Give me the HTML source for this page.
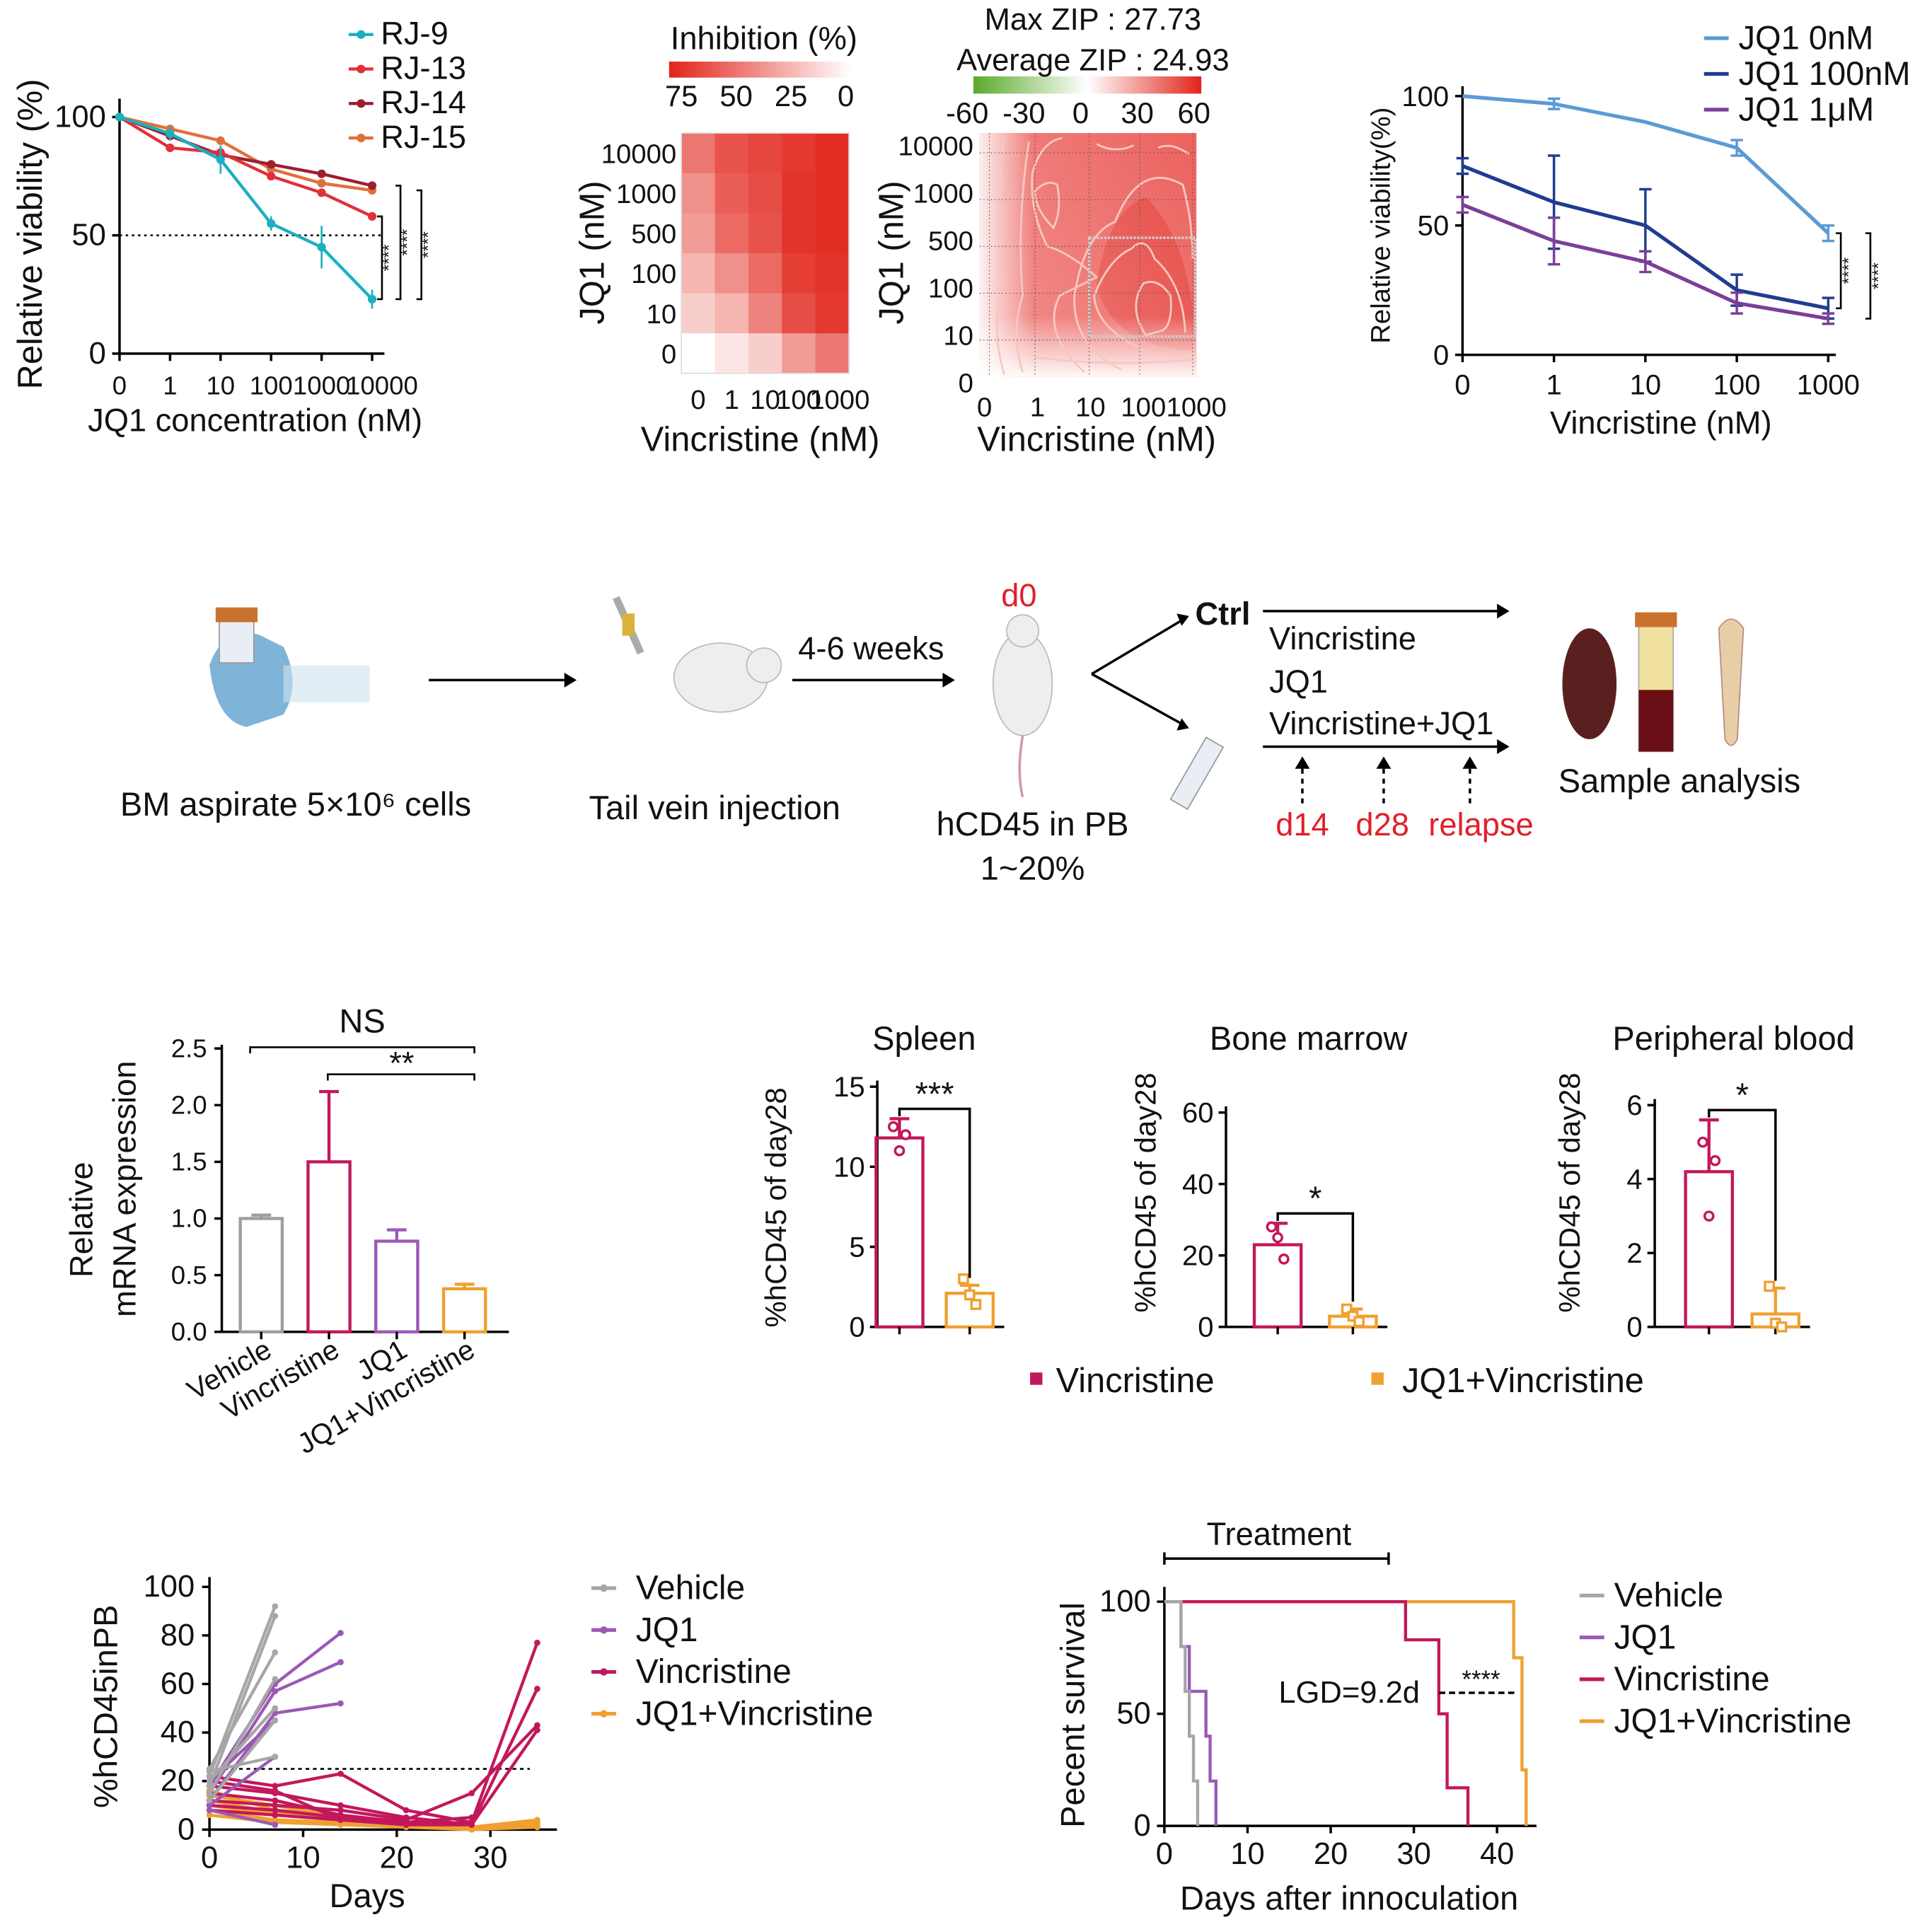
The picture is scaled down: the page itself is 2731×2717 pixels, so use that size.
<!DOCTYPE html>
<html><head><meta charset="utf-8">
<style>
html,body{margin:0;padding:0;background:#fff}
svg{display:block}
text{font-family:"Liberation Sans",Arial,sans-serif;fill:#111}
</style></head>
<body>
<svg id="fig" width="2731" height="2717" viewBox="0 0 1568 1560" xmlns="http://www.w3.org/2000/svg">
<rect width="1568" height="1560" fill="#fff"/>
<defs>
<linearGradient id="inhGrad" x1="0" x2="1"><stop offset="0" stop-color="#e2231a"/><stop offset="1" stop-color="#fff"/></linearGradient>
<linearGradient id="zipGrad" x1="0" x2="1"><stop offset="0" stop-color="#5aaa2a"/><stop offset="0.5" stop-color="#fff"/><stop offset="1" stop-color="#e2231a"/></linearGradient>
<linearGradient id="zipLeft" x1="0" x2="1"><stop offset="0" stop-color="#fff" stop-opacity="0.9"/><stop offset="0.25" stop-color="#fff" stop-opacity="0.15"/><stop offset="1" stop-color="#fff" stop-opacity="0"/></linearGradient>
<linearGradient id="zipBottom" x1="0" x2="0" y1="0" y2="1"><stop offset="0" stop-color="#fff" stop-opacity="0"/><stop offset="0.75" stop-color="#fff" stop-opacity="0.1"/><stop offset="1" stop-color="#fff" stop-opacity="0.95"/></linearGradient>
</defs>
<g id="g"></g>

<g>
<text x="34" y="190" transform="rotate(-90 34 190)" text-anchor="middle" font-size="28">Relative viability  (%)</text>
<text x="207" y="350" text-anchor="middle" font-size="26">JQ1 concentration (nM)</text>
</g>
<text x="620" y="40" text-anchor="middle" font-size="26">Inhibition (%)</text>
<text x="490" y="205" transform="rotate(-90 490 205)" text-anchor="middle" font-size="28">JQ1 (nM)</text>
<text x="617" y="366" text-anchor="middle" font-size="28">Vincristine (nM)</text>
<text x="887" y="24" text-anchor="middle" font-size="25">Max ZIP : 27.73</text>
<text x="887" y="57" text-anchor="middle" font-size="25">Average ZIP : 24.93</text>
<text x="733" y="205" transform="rotate(-90 733 205)" text-anchor="middle" font-size="28">JQ1 (nM)</text>
<text x="890" y="366" text-anchor="middle" font-size="28">Vincristine (nM)</text>
<text x="1128" y="183" transform="rotate(-90 1128 183)" text-anchor="middle" font-size="22">Relative viability(%)</text>
<text x="1348" y="352" text-anchor="middle" font-size="26">Vincristine (nM)</text>

<g>
<g>
<path d="M170 540 q10 -30 40 -25 l20 10 q15 30 0 55 l-30 10 q-25 -5 -30 -50z" fill="#7fb4d8"/>
<rect x="230" y="540" width="70" height="30" fill="#cfe2f0" opacity="0.6"/>
<rect x="178" y="500" width="28" height="38" fill="#e8eef3" stroke="#999"/>
<rect x="175" y="493" width="34" height="12" fill="#c9732e"/>
</g>
<line x1="348" y1="552" x2="458" y2="552" stroke="#000" stroke-width="2"/><path d="M458 546 l10 6 l-10 6z"/>
<text x="240" y="662" text-anchor="middle" font-size="27">BM aspirate 5×10⁶ cells</text>
<g>
<ellipse cx="585" cy="550" rx="38" ry="28" fill="#eee" stroke="#bbb"/>
<circle cx="620" cy="540" r="14" fill="#eee" stroke="#bbb"/>
<line x1="500" y1="485" x2="520" y2="530" stroke="#aaa" stroke-width="6"/>
<rect x="505" y="498" width="10" height="18" fill="#d9b23a"/>
</g>
<text x="580" y="665" text-anchor="middle" font-size="27">Tail vein injection</text>
<line x1="643" y1="552" x2="765" y2="552" stroke="#000" stroke-width="2"/><path d="M765 546 l10 6 l-10 6z"/>
<text x="707" y="535" text-anchor="middle" font-size="26">4-6 weeks</text>
<text x="827" y="492" text-anchor="middle" font-size="26" style="fill:#e0202a">d0</text>
<g>
<ellipse cx="830" cy="555" rx="24" ry="42" fill="#eee" stroke="#bbb"/>
<circle cx="830" cy="512" r="13" fill="#eee" stroke="#bbb"/>
<path d="M830 597 q-5 30 0 50" stroke="#c9a" fill="none" stroke-width="2"/>
</g>
<text x="838" y="678" text-anchor="middle" font-size="27">hCD45 in PB</text>
<text x="838" y="714" text-anchor="middle" font-size="27">1~20%</text>
<path d="M886 547 L960 503 M886 547 L960 588" stroke="#000" stroke-width="2" fill="none"/>
<path d="M955 498 l10 2 l-6 8z M955 593 l10 -2 l-6 -8z"/>
<text x="970" y="507" font-size="26" font-weight="bold">Ctrl</text>
<line x1="1025" y1="496" x2="1215" y2="496" stroke="#000" stroke-width="2"/><path d="M1215 490 l10 6 l-10 6z"/>
<text x="1030" y="527" font-size="26">Vincristine</text>
<text x="1030" y="562" font-size="26">JQ1</text>
<text x="1030" y="596" font-size="26">Vincristine+JQ1</text>
<line x1="1025" y1="606" x2="1215" y2="606" stroke="#000" stroke-width="2"/><path d="M1215 600 l10 6 l-10 6z"/>
<g stroke="#000" stroke-width="2" stroke-dasharray="4 4"><line x1="1057" y1="652" x2="1057" y2="620"/><line x1="1123" y1="652" x2="1123" y2="620"/><line x1="1193" y1="652" x2="1193" y2="620"/></g>
<path d="M1051 624 l6 -10 l6 10z M1117 624 l6 -10 l6 10z M1187 624 l6 -10 l6 10z"/>
<text x="1057" y="678" text-anchor="middle" font-size="26" style="fill:#e0202a">d14</text>
<text x="1122" y="678" text-anchor="middle" font-size="26" style="fill:#e0202a">d28</text>
<text x="1202" y="678" text-anchor="middle" font-size="26" style="fill:#e0202a">relapse</text>
<g><rect x="963" y="598" width="16" height="58" fill="#e8eef3" stroke="#999" transform="rotate(30 970 628)"/></g>
<g>
<ellipse cx="1290" cy="555" rx="22" ry="45" fill="#5a1f1f"/>
<rect x="1330" y="505" width="28" height="105" fill="#f0e0a0" stroke="#aaa"/>
<rect x="1330" y="560" width="28" height="50" fill="#6a0f15"/>
<rect x="1327" y="497" width="34" height="12" fill="#c9732e"/>
<path d="M1395 510 q10 -15 20 0 l-5 90 q-5 10 -10 0z" fill="#e6cfa6" stroke="#b88"/>
</g>
<text x="1363" y="643" text-anchor="middle" font-size="27">Sample analysis</text>
</g>

<text x="75" y="990" transform="rotate(-90 75 990)" text-anchor="middle" font-size="26">Relative</text>
<text x="110" y="965" transform="rotate(-90 110 965)" text-anchor="middle" font-size="26">mRNA expression</text>
<text x="750" y="852" text-anchor="middle" font-size="27">Spleen</text>
<text x="1062" y="852" text-anchor="middle" font-size="27">Bone marrow</text>
<text x="1407" y="852" text-anchor="middle" font-size="27">Peripheral blood</text>
<text x="638" y="980" transform="rotate(-90 638 980)" text-anchor="middle" font-size="24">%hCD45 of day28</text>
<text x="938" y="968" transform="rotate(-90 938 968)" text-anchor="middle" font-size="24">%hCD45 of day28</text>
<text x="1282" y="968" transform="rotate(-90 1282 968)" text-anchor="middle" font-size="24">%hCD45 of day28</text>
<rect x="836" y="1114" width="10" height="10" fill="#c2185b"/>
<text x="857" y="1130" font-size="28">Vincristine</text>
<rect x="1113" y="1114" width="10" height="10" fill="#f0a030"/>
<text x="1138" y="1130" font-size="28">JQ1+Vincristine</text>
<text x="95" y="1385" transform="rotate(-90 95 1385)" text-anchor="middle" font-size="27">%hCD45inPB</text>
<text x="298" y="1548" text-anchor="middle" font-size="27">Days</text>
<text x="880" y="1392" transform="rotate(-90 880 1392)" text-anchor="middle" font-size="27">Pecent survival</text>
<text x="1095" y="1550" text-anchor="middle" font-size="27">Days after innoculation</text>
<text x="1038" y="1254" text-anchor="middle" font-size="26">Treatment</text>
<path d="M945 1260 v10 M945 1265 H1127 M1127 1260 v10" stroke="#000" stroke-width="2" fill="none"/>
<text x="1095" y="1382" text-anchor="middle" font-size="25">LGD=9.2d</text>
<text x="1202" y="1370" text-anchor="middle" font-size="20">****</text>
<line x1="1168" y1="1374" x2="1230" y2="1374" stroke="#000" stroke-width="2" stroke-dasharray="5 3"/>
</svg>
<script>
const NS='http://www.w3.org/2000/svg';
const G=document.getElementById('g');
function mk(tag,attrs,name,parent){const el=document.createElementNS(NS,tag);for(const k in attrs)el.setAttribute(k,attrs[k]);


(parent||G).appendChild(el);return el;}
function txt(x,y,s,size,anchor,name,fill){const t=mk('text',{x:x,y:y,'font-size':size,'text-anchor':anchor||'middle'},name);if(fill)t.style.fill=fill;t.textContent=s;return t;}
function ln(x1,y1,x2,y2,name,stroke,w,dash){const a={x1:x1,y1:y1,x2:x2,y2:y2,stroke:stroke||'#000','stroke-width':w||2};if(dash)a['stroke-dasharray']=dash;return mk('line',a,name);}
function pl(pts,name,stroke,w,dash){const a={points:pts.map(p=>p.join(',')).join(' '),fill:'none',stroke:stroke,'stroke-width':w||2};if(dash)a['stroke-dasharray']=dash;return mk('polyline',a,name);}

/* Panel A */
const aCats=['0','1','10','100','1000','10000'];
const aSeriesNames=['RJ-9','RJ-13','RJ-14','RJ-15'];
const aColors=['#1ab0c0','#e0303a','#9c1f2e','#e0703a'];
const aRJ9=[100,93,82,55,45,23];
const aRJ13=[100,87,85,75,68,58];
const aRJ14=[100,92,84,80,76,71];
const aRJ15=[100,95,90,78,72,69];
const aErr9=[0,3,6,3,9,4];
const aYTicks=[0,50,100];
(function(){
 const x=i=>97+i*41, y=v=>287-v*1.92;
 ln(97,80,97,287,'a-y-axis');ln(97,287,312,287,'a-x-axis');
 aYTicks.forEach(v=>{ln(91,y(v),97,y(v),'a-y-tick');txt(86,y(v)+8,String(v),25,'end','a-y-tick-label');});
 aCats.forEach((c,i)=>{ln(x(i),287,x(i),293,'a-x-tick');txt(x(i)+(i==5?8:0),320,c,21,'middle','a-x-tick-label');});
 ln(97,y(50),312,y(50),'a-threshold-line','#000',1.5,'2 3');
 [aRJ15,aRJ14,aRJ13,aRJ9].forEach((s,k0)=>{const k=3-k0;const pts=s.map((v,i)=>[x(i),y(v)]);pl(pts,'a-line-'+aSeriesNames[k],aColors[k],2.5);
  pts.forEach((p,i)=>{if(k==0){ln(p[0],y(s[i]+aErr9[i]),p[0],y(s[i]-aErr9[i]),'a-error-bar',aColors[k],1.5);}mk('circle',{cx:p[0],cy:p[1],r:3.5,fill:aColors[k]},'a-point-'+aSeriesNames[k]);});});
 aSeriesNames.forEach((n,k)=>{const yy=36+k*28;ln(283,yy-8,303,yy-8,'a-legend-line',aColors[k],2.5);mk('circle',{cx:293,cy:yy-8,r:3.5,fill:aColors[k]},'a-legend-marker');txt(309,yy,n,26,'start','a-legend-entry');});
 [[310,y(58),y(23)],[325,y(71),y(23)],[342,y(69),y(23)]].forEach(b=>{mk('path',{d:`M${b[0]-4} ${b[1]} H${b[0]} V${b[2]} H${b[0]-4}`,fill:'none',stroke:'#000','stroke-width':1.5},'a-sig-bracket');
  const t=txt(b[0]+10,(b[1]+b[2])/2,'****',14,'middle','a-sig-stars');t.setAttribute('transform',`rotate(-90 ${b[0]+10} ${(b[1]+b[2])/2})`);});
})();

/* Panel B */
const bCols=['0','1','10','100','1000'];
const bRows=['10000','1000','500','100','10','0'];
const bVals=[[55,70,75,80,85],[45,65,72,82,85],[40,60,70,82,85],[30,45,60,78,82],[20,30,50,72,80],[0,10,20,40,55]];
const bBarTicks=[75,50,25,0];
(function(){
 mk('rect',{x:543,y:50,width:148,height:13,fill:'url(#inhGrad)'},'b-colorbar');
 bBarTicks.forEach((v,i)=>txt(553+i*44.5,86,String(v),24,'middle','b-colorbar-label'));
 const cw=27.2,ch=32.5,x0=553,y0=108;
 bVals.forEach((r,ri)=>r.forEach((v,ci)=>{const t=Math.min(v,85)/85;const g=Math.round(255-(255-45)*t),b=Math.round(255-(255-35)*t),rr=Math.round(255-(255-226)*t);
  mk('rect',{x:x0+ci*cw,y:y0+ri*ch,width:cw+0.5,height:ch+0.5,fill:`rgb(${rr},${g},${b})`},'b-heatmap-cell');}));
 mk('rect',{x:x0,y:y0,width:cw*5,height:ch*6,fill:'none',stroke:'#ddd'},'b-heatmap-border');
 bRows.forEach((r,i)=>txt(549,y0+i*ch+ch/2+8,r,22,'end','b-row-label'));
 bCols.forEach((c,i)=>txt(x0+i*cw+cw/2+(i==4?6:0),332,c,22,'middle','b-col-label'));
})();

/* Panel C */
const cTicksX=['0','1','10','100','1000'];
const cTicksY=['10000','1000','500','100','10','0'];
const cBarTicks=['-60','-30','0','30','60'];
(function(){
 mk('rect',{x:790,y:62,width:185,height:14,fill:'url(#zipGrad)'},'c-colorbar');
 cBarTicks.forEach((v,i)=>txt(785+i*46,100,v,24,'middle','c-colorbar-label'));
 mk('rect',{x:795,y:108,width:176,height:198,fill:'#ec625e'},'c-zip-surface');
 mk('path',{d:'M930 160 Q960 190 968 250 L968 285 Q900 280 890 230 Q900 170 930 160z',fill:'#e6403a',opacity:0.7},'c-zip-peak');
 mk('rect',{x:795,y:108,width:176,height:198,fill:'url(#zipLeft)'},'c-zip-left-fade');
 mk('rect',{x:795,y:108,width:176,height:198,fill:'url(#zipBottom)'},'c-zip-bottom-fade');
 const cs='#f6c8c0';
 ['M840 155 Q850 145 858 150 Q862 170 855 185 Q840 170 840 155z',
  'M938 288 Q890 270 888 240 Q900 210 918 202 Q930 190 937 210 Q960 230 962 270',
  'M930 272 Q915 250 928 230 Q940 225 950 240 Q952 262 944 268z',
  'M910 300 Q870 280 872 240 Q880 190 905 180 Q925 130 960 150 Q968 180 968 210',
  'M880 302 Q845 270 860 240 Q880 230 890 225 Q868 205 850 200 Q835 170 838 140 Q845 115 862 112',
  'M965 125 Q950 115 940 120 M890 117 Q905 125 920 118',
  'M830 302 Q820 270 830 240 Q825 180 835 115',
  'M815 304 Q805 270 812 240 Q808 170 815 112',
  'M840 290 Q900 298 968 292'].forEach(d=>mk('path',{d:d,fill:'none',stroke:cs,'stroke-width':1.6},'c-contour'));
 [124,162,200,238,276].forEach(yy=>ln(795,yy,971,yy,'c-grid-line','#555',0.6,'1 2'));
 [803,840,884,925,968].forEach(xx=>ln(xx,108,xx,306,'c-grid-line','#555',0.6,'1 2'));
 mk('rect',{x:884,y:193,width:86,height:80,fill:'none',stroke:'#ccc','stroke-width':2,'stroke-dasharray':'2 1'},'c-max-region');
 cTicksY.forEach((t,i)=>txt(790,126+i*38.5,t,22,'end','c-y-tick-label'));
 cTicksX.forEach((t,i)=>txt(799+i*43,338,t,22,'middle','c-x-tick-label'));
})();

/* Panel D */
const dCats=['0','1','10','100','1000'];
const dNames=['JQ1 0nM','JQ1 100nM','JQ1 1μM'];
const dColors=['#5b9bd5','#1f3d8f','#7b3f99'];
const d0=[100,97,90,80,47];
const d100=[73,59,50,25,18];
const d1u=[58,44,36,20,14];
const dErr0=[0,2,0,3,3];
const dErr100=[3,18,14,6,4];
const dErr1u=[3,9,4,4,2];
const dYTicks=[0,50,100];
(function(){
 const x=i=>1187+i*74.2, y=v=>288-v*2.1;
 ln(1187,70,1187,288,'d-y-axis');ln(1187,288,1490,288,'d-x-axis');
 dYTicks.forEach(v=>{ln(1181,y(v),1187,y(v),'d-y-tick');txt(1176,y(v)+8,String(v),23,'end','d-y-tick-label');});
 dCats.forEach((c,i)=>{ln(x(i),288,x(i),294,'d-x-tick');txt(x(i),320,c,23,'middle','d-x-tick-label');});
 [[d0,dErr0],[d100,dErr100],[d1u,dErr1u]].forEach((s,k)=>{pl(s[0].map((v,i)=>[x(i),y(v)]),'d-line-'+k,dColors[k],3);
  s[0].forEach((v,i)=>{if(s[1][i]){ln(x(i),y(v+s[1][i]),x(i),y(v-s[1][i]),'d-error-bar',dColors[k],2);ln(x(i)-5,y(v+s[1][i]),x(i)+5,y(v+s[1][i]),'d-error-cap',dColors[k],2);ln(x(i)-5,y(v-s[1][i]),x(i)+5,y(v-s[1][i]),'d-error-cap',dColors[k],2);}});});
 dNames.forEach((n,k)=>{const yy=40+k*29;ln(1383,yy-9,1403,yy-9,'d-legend-line',dColors[k],3);txt(1411,yy,n,27,'start','d-legend-entry');});
 [[1494,y(47),y(18)],[1518,y(47),y(14)]].forEach(b=>{mk('path',{d:`M${b[0]-4} ${b[1]} H${b[0]} V${b[2]} H${b[0]-4}`,fill:'none',stroke:'#000','stroke-width':1.5},'d-sig-bracket');
  const t=txt(b[0]+11,(b[1]+b[2])/2,'****',14,'middle','d-sig-stars');t.setAttribute('transform',`rotate(-90 ${b[0]+11} ${(b[1]+b[2])/2})`);});
})();

/* Panel E */
const eCats=['Vehicle','Vincristine','JQ1','JQ1+Vincristine'];
const eVals=[1.0,1.5,0.8,0.38];
const eErr=[0.03,0.62,0.1,0.04];
const eColors=['#9e9e9e','#c2185b','#9b59b6','#f0a030'];
const eYTicks=[0,0.5,1.0,1.5,2.0,2.5];
(function(){
 const y=v=>1081-v*92,x=i=>212+i*55;
 ln(180,848,180,1081,'e-y-axis');ln(180,1081,413,1081,'e-x-axis');
 eYTicks.forEach(v=>{ln(174,y(v),180,y(v),'e-y-tick');txt(168,y(v)+7,v.toFixed(1),21,'end','e-y-tick-label');});
 eVals.forEach((v,i)=>{mk('rect',{x:x(i)-17,y:y(v),width:34,height:1081-y(v),fill:'none',stroke:eColors[i],'stroke-width':2.5},'e-bar-'+eCats[i]);
  ln(x(i),y(v),x(i),y(v+eErr[i]),'e-error-bar',eColors[i],2.5);ln(x(i)-8,y(v+eErr[i]),x(i)+8,y(v+eErr[i]),'e-error-cap',eColors[i],2.5);
  ln(x(i),1081,x(i),1087,'e-x-tick');
  const t=txt(x(i)+10,1100,eCats[i],23,'end','e-x-tick-label');t.setAttribute('transform',`rotate(-30 ${x(i)+10} 1100)`);});
 mk('path',{d:'M203 855 v-5 H385 v5',fill:'none',stroke:'#000','stroke-width':1.5},'e-ns-bracket');txt(294,838,'NS',27,'middle','e-ns-label');
 mk('path',{d:'M266 877 v-5 H385 v5',fill:'none',stroke:'#000','stroke-width':1.5},'e-sig-bracket');txt(326,872,'**',26,'middle','e-sig-label');
})();

/* Panel F */
const fGroups=['Spleen','Bone marrow','Peripheral blood'];
const fVinc=[11.8,23,4.2];
const fCombo=[2.1,3,0.35];
const fVincErr=[1.2,6,1.4];
const fComboErr=[0.5,2,0.7];
const fVincPts=[[12.5,11,12],[28,25,19],[5,3,4.5]];
const fComboPts=[[3,2,1.4],[5,3,1.5],[1.1,0.1,0]];
const fMax=[15,60,6];
const fTicks=[[0,5,10,15],[0,20,40,60],[0,2,4,6]];
const fSig=['***','*','*'];
const fLayout=[{ax:712,top:882,b1:730,b2:787},{ax:995,top:903,b1:1037,b2:1098},{ax:1343,top:897,b1:1387,b2:1441}];
(function(){
 const base=1077;
 fGroups.forEach((g,k)=>{const L=fLayout[k];const y=v=>base-v/fMax[k]*(base-L.top);
  ln(L.ax,L.top-5,L.ax,base,'f-y-axis-'+k);ln(L.ax,base,L.b2+28,base,'f-x-axis-'+k);
  fTicks[k].forEach(v=>{ln(L.ax-6,y(v),L.ax,y(v),'f-y-tick');txt(L.ax-10,y(v)+8,String(v),23,'end','f-y-tick-label');});
  [[L.b1,fVinc[k],fVincErr[k],fVincPts[k],'#c2185b','circle'],[L.b2,fCombo[k],fComboErr[k],fComboPts[k],'#f0a030','square']].forEach(b=>{
   mk('rect',{x:b[0]-19,y:y(b[1]),width:38,height:base-y(b[1]),fill:'none',stroke:b[4],'stroke-width':2.5},'f-bar-'+k);
   ln(b[0],y(b[1]),b[0],y(b[1]+b[2]),'f-error-bar',b[4],2.5);ln(b[0]-8,y(b[1]+b[2]),b[0]+8,y(b[1]+b[2]),'f-error-cap',b[4],2.5);
   ln(b[0],base,b[0],base+6,'f-x-tick');
   b[3].forEach((v,j)=>{const px=b[0]+(j-1)*5;if(b[5]=='circle')mk('circle',{cx:px,cy:y(v),r:3.5,fill:'#fff',stroke:b[4],'stroke-width':2},'f-dot');else mk('rect',{x:px-3.5,y:y(v)-3.5,width:7,height:7,fill:'#fff',stroke:b[4],'stroke-width':2},'f-dot');});});
  const t1=y(fVinc[k]+fVincErr[k])-8;mk('path',{d:`M${L.b1} ${t1+6} V${t1} H${L.b2} V${y(fCombo[k]+fComboErr[k])-6}`,fill:'none',stroke:'#000','stroke-width':2},'f-sig-bracket');
  txt((L.b1+L.b2)/2,t1-3,fSig[k],27,'middle','f-sig-label');});
})();

/* Panel G */
const gGroups=['Vehicle','JQ1','Vincristine','JQ1+Vincristine'];
const gColors=['#a6a6a6','#9b59b6','#c2185b','#f0a030'];
const gVehicleDays=[0,7];
const gVehicle=[[22,92],[18,88],[25,73],[15,62],[20,50],[12,45],[24,30]];
const gJQ1Days=[0,7,14];
const gJQ1=[[18,60,81],[15,57,69],[12,48,52],[20,45,null],[10,30,null],[8,2,null]];
const gVincDays=[0,7,14,21,28,35];
const gVinc=[[22,18,23,8,3,77],[18,15,10,5,2,58],[15,12,6,3,2,41],[12,10,8,4,15,43],[10,8,5,3,5,null],[20,16,4,2,3,null],[8,6,4,2,2,null]];
const gComboDays=[0,7,14,21,28,35];
const gCombo=[[14,10,5,3,1,4],[10,6,4,2,1,3],[8,4,3,2,1,2],[16,8,6,2,1,1],[6,3,2,1,0,1],[12,7,4,2,1,2]];
const gYTicks=[0,20,40,60,80,100];
const gXTicks=[0,10,20,30];
(function(){
 const x=d=>170+d*7.6,y=v=>1485-v*1.97;
 ln(170,1280,170,1485,'g-y-axis');ln(170,1485,452,1485,'g-x-axis');
 gYTicks.forEach(v=>{ln(164,y(v),170,y(v),'g-y-tick');txt(158,y(v)+8,String(v),25,'end','g-y-tick-label');});
 gXTicks.forEach(v=>{ln(x(v),1485,x(v),1491,'g-x-tick');txt(x(v),1516,String(v),25,'middle','g-x-tick-label');});
 ln(170,y(25),430,y(25),'g-threshold-line','#000',1.5,'3 3');
 const sets=[[gVehicle,gVehicleDays],[gJQ1,gJQ1Days],[gVinc,gVincDays],[gCombo,gComboDays]];
 [3,2,1,0].forEach(k=>{const s=sets[k];s[0].forEach(row=>{const pts=[];row.forEach((v,i)=>{if(v!==null)pts.push([x(s[1][i]),y(v)]);});
  pl(pts,'g-line-'+gGroups[k],gColors[k],2.5);pts.forEach(p=>mk('circle',{cx:p[0],cy:p[1],r:2.5,fill:gColors[k]},'g-point'));});});
 gGroups.forEach((n,k)=>{const yy=1298+k*34;ln(480,yy-9,500,yy-9,'g-legend-line',gColors[k],3);mk('circle',{cx:490,cy:yy-9,r:3,fill:gColors[k]},'g-legend-marker');txt(516,yy,n,27.5,'start','g-legend-entry');});
})();

/* Panel H */
const hGroups=['Vehicle','JQ1','Vincristine','JQ1+Vincristine'];
const hColors=['#a6a6a6','#9b59b6','#c2185b','#f0a030'];
const hVehT=[0,2,2.5,3,3.5,4];
const hVehS=[100,80,60,40,20,0];
const hJQ1T=[0,2,3,4,5,5.5,6.2];
const hJQ1S=[100,80,60,60,40,20,0];
const hVincT=[0,29,33,34,36.5];
const hVincS=[100,83,50,17,0];
const hComboT=[0,42,43,43.5];
const hComboS=[100,75,25,0];
const hYTicks=[0,50,100];
const hXTicks=[0,10,20,30,40];
(function(){
 const x=d=>945+d*6.75,y=v=>1482-v*1.82;
 ln(945,1288,945,1482,'h-y-axis');ln(945,1482,1247,1482,'h-x-axis');
 hYTicks.forEach(v=>{ln(939,y(v),945,y(v),'h-y-tick');txt(934,y(v)+8,String(v),25,'end','h-y-tick-label');});
 hXTicks.forEach(v=>{ln(x(v),1482,x(v),1488,'h-x-tick');txt(x(v),1513,String(v),25,'middle','h-x-tick-label');});
 const sets=[[hVehT,hVehS],[hJQ1T,hJQ1S],[hVincT,hVincS],[hComboT,hComboS]];
 [3,2,1,0].forEach(k=>{const s=sets[k];const pts=[];s[0].forEach((t,i)=>{if(i>0)pts.push([x(t),y(s[1][i-1])]);pts.push([x(t),y(s[1][i])]);});
  pl(pts,'h-curve-'+hGroups[k],hColors[k],2.5);});
 hGroups.forEach((n,k)=>{const yy=1304+k*34;ln(1282,yy-9,1302,yy-9,'h-legend-line',hColors[k],3);txt(1310,yy,n,27.5,'start','h-legend-entry');});
})();
</script>
</body></html>
